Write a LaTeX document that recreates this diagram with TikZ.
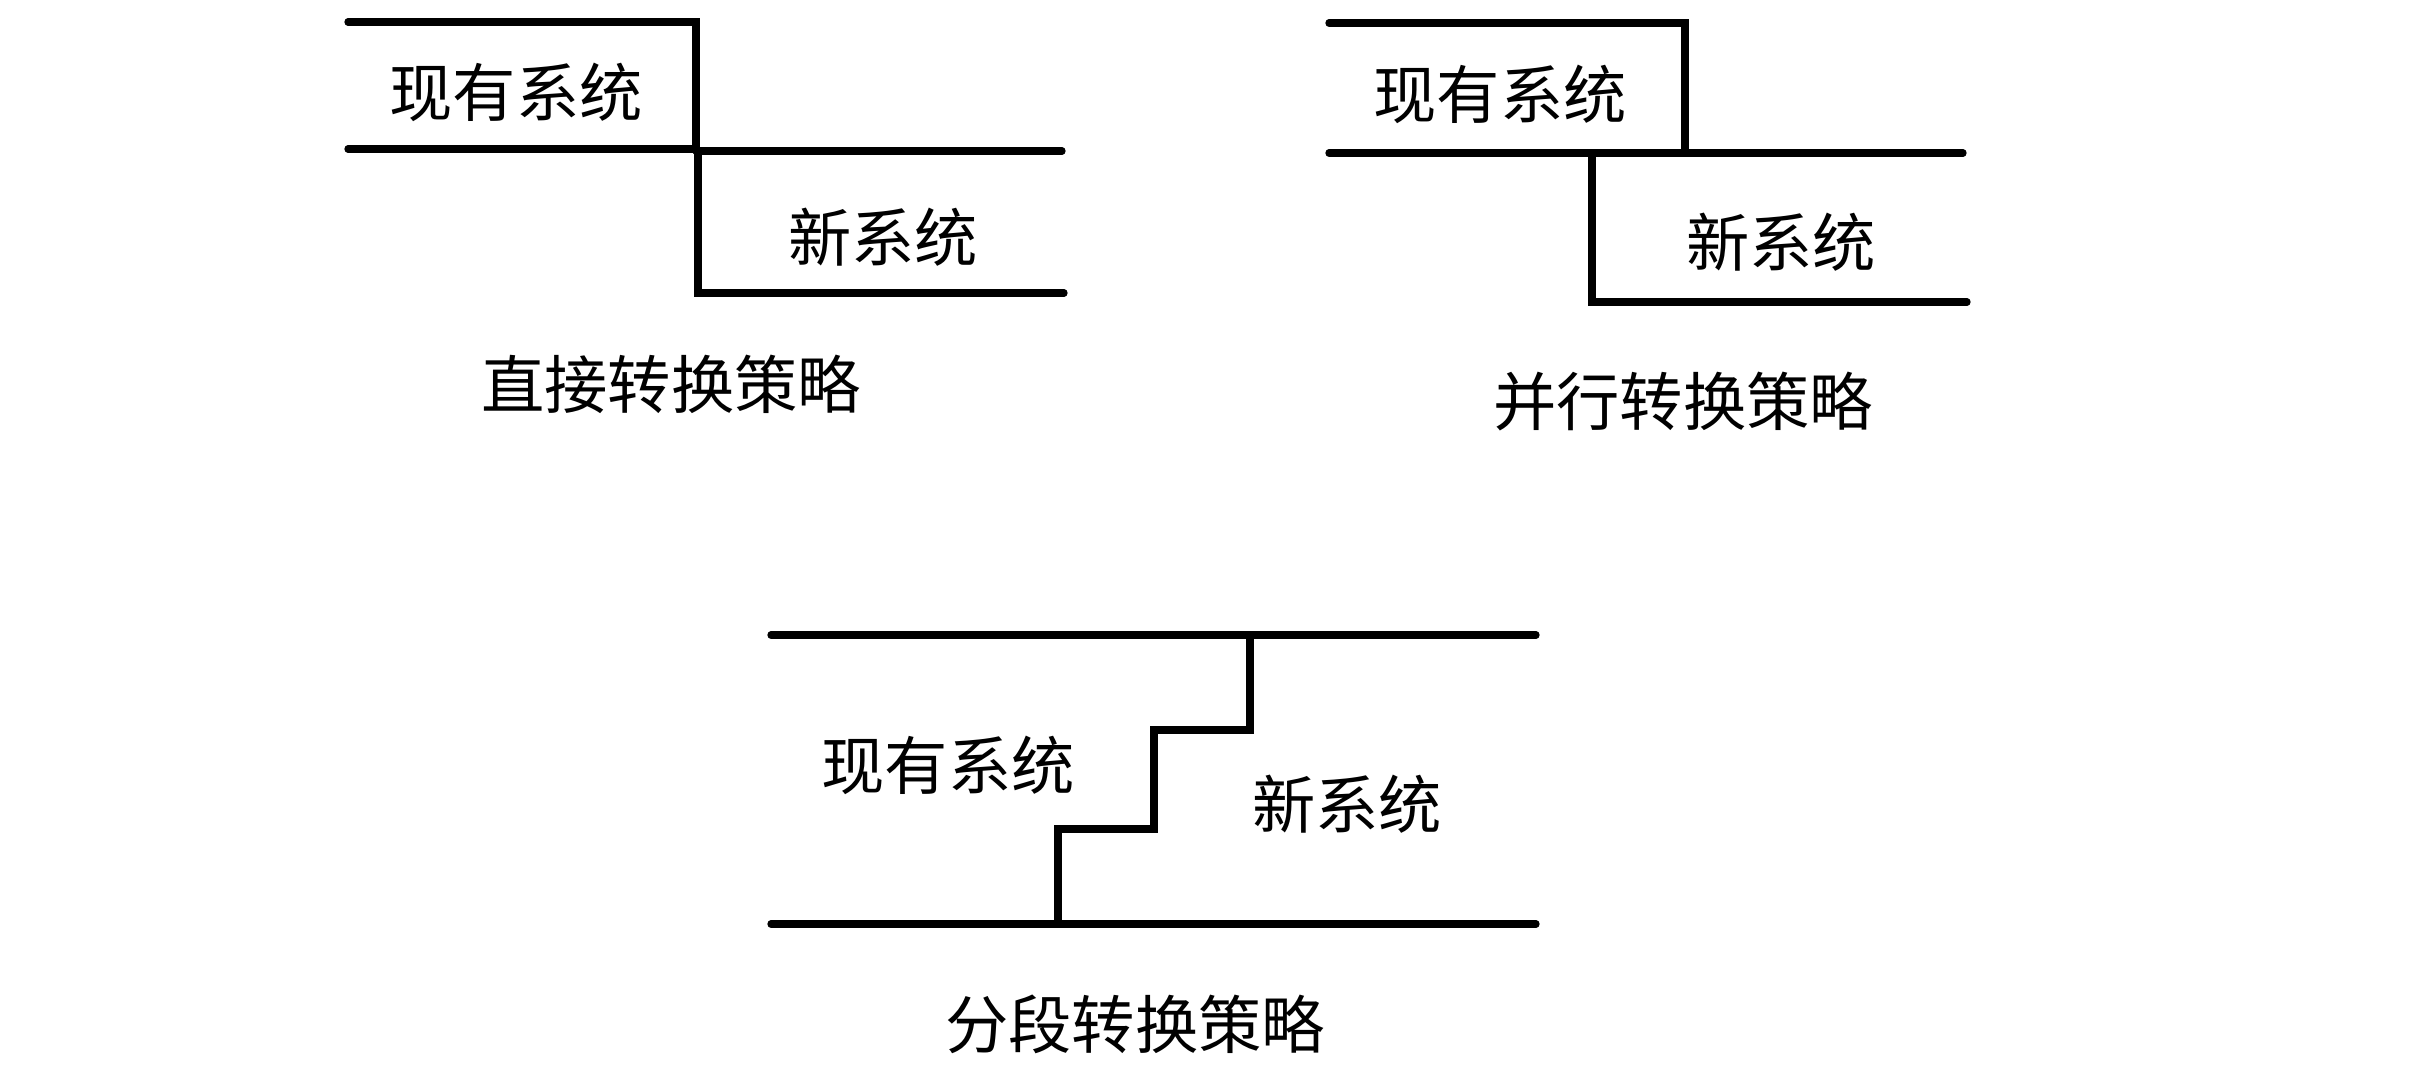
\documentclass[tikz,border=0pt]{standalone}
\usepackage{fontspec}
\newfontfamily\cjk{Noto Sans CJK SC}
\begin{document}
\begin{tikzpicture}[x=0.3pt,y=-0.3pt,
  bar/.style={line width=2.2pt,line cap=round,line join=miter},
  lbl/.style={inner sep=0pt,font=\cjk\fontsize{19}{19}\selectfont}]
\useasboundingbox[fill=white] (0,0) rectangle (2428,1074);
% Panel 1: direct conversion
\draw[bar] (348,22) -- (696,22) -- (696,149);
\draw[bar] (348,149) -- (696,149);
\draw[bar] (696,151) -- (1062,151);
\draw[bar] (698,151) -- (698,293) -- (1064,293);
\node[lbl] (old1) at (516,92) {现有系统};
\node[lbl] (new1) at (883,237) {新系统};
\node[lbl] (cap1) at (671,384) {直接转换策略};
% Panel 2: parallel conversion
\draw[bar] (1329,23) -- (1685,23) -- (1685,153);
\draw[bar] (1329,153) -- (1963,153);
\draw[bar] (1592,153) -- (1592,302) -- (1967,302);
\node[lbl] (old2) at (1500,94) {现有系统};
\node[lbl] (new2) at (1781,242) {新系统};
\node[lbl] (cap2) at (1683,402) {并行转换策略};
% Panel 3: phased conversion
\draw[bar] (771,635) -- (1536,635);
\draw[bar] (1250,635) -- (1250,730) -- (1154,730) -- (1154,829) -- (1058,829) -- (1058,924);
\draw[bar] (771,924) -- (1536,924);
\node[lbl] (old3) at (948,765) {现有系统};
\node[lbl] (new3) at (1347,804) {新系统};
\node[lbl] (cap3) at (1135,1024) {分段转换策略};
\end{tikzpicture}
\end{document}
